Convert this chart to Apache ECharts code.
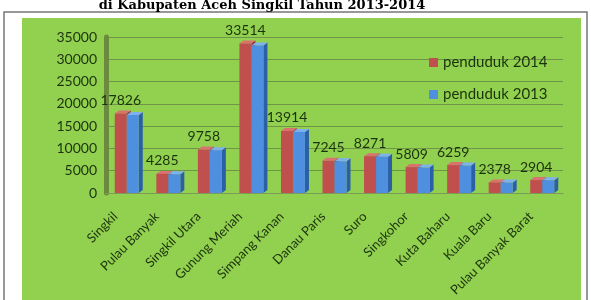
<!DOCTYPE html>
<html>
<head>
<meta charset="utf-8">
<script src="https://cdn.jsdelivr.net/npm/echarts@6/dist/echarts.min.js"></script>
<style>
  html, body { margin: 0; padding: 0; background: #fff; }
  #chart { width: 591px; height: 300px; }
</style>
</head>
<body>
<div id="chart"></div>
<script>
// data
const kecamatan = ['Singkil', 'Pulau Banyak', 'Singkil Utara', 'Gunung Meriah', 'Simpang Kanan',
  'Danau Paris', 'Suro', 'Singkohor', 'Kuta Baharu', 'Kuala Baru', 'Pulau Banyak Barat'];
const penduduk2014 = [17826, 4285, 9758, 33514, 13914, 7245, 8271, 5809, 6259, 2378, 2904];
const penduduk2013 = [17500, 4200, 9600, 33100, 13700, 7100, 8150, 5700, 6150, 2330, 2860];
const yTicks = { min: 0, max: 35000, interval: 5000 };

const RED = '#c0504d', BLUE = '#4f8fe0';
const INK = '#1b330c';

// 3D-ish bar: front face + right side + top
function bar3d(side, front, sideCol, topCol, withLabel) {
  return function (params, api) {
    const x0 = api.coord([api.value(0), 0]);
    const x1 = api.coord([api.value(0), api.value(1)]);
    const bw = 12, dx = 4, dy = 3;
    const left = side === 0 ? x0[0] - bw : x0[0];
    const right = left + bw;
    const top = x1[1], base = x0[1];
    const kids = [
      { type: 'polygon', shape: { points: [[right, top], [right + dx, top - dy], [right + dx, base - dy], [right, base]] },
        style: { fill: sideCol } },
      { type: 'polygon', shape: { points: [[left, top], [left + dx, top - dy], [right + dx, top - dy], [right, top]] },
        style: { fill: topCol } },
      { type: 'rect', shape: { x: left, y: top, width: bw, height: base - top },
        style: { fill: front } }
    ];
    if (withLabel) {
      kids.push({ type: 'text', x: left + bw / 2, y: top - 13,
        style: { text: String(api.value(1)), fill: INK, font: '14px Lato',
                 align: 'center', verticalAlign: 'middle' } });
    }
    return { type: 'group', children: kids };
  };
}

const chart = echarts.init(document.getElementById('chart'));
chart.setOption({
  animation: false,
  graphic: [
    { type: 'rect', z: -10, shape: { x: 4, y: 12, width: 583, height: 300 },
      style: { fill: '#fff', stroke: '#777', lineWidth: 1.5 } },
    { type: 'rect', z: -9, shape: { x: 22, y: 18, width: 559, height: 290 },
      style: { fill: '#92d050' } },
    { type: 'text', z: 10, x: 262, y: 12,
      style: { text: 'di Kabupaten Aceh Singkil Tahun 2013-2014', fill: '#000',
               font: 'bold 13px "DejaVu Serif"', align: 'center', verticalAlign: 'bottom' } }
  ],
  legend: {
    orient: 'vertical', left: 424, top: 50, itemGap: 17,
    itemWidth: 9, itemHeight: 9, icon: 'rect',
    textStyle: { fontFamily: 'Lato', fontSize: 15, color: INK },
    data: ['penduduk 2014', 'penduduk 2013']
  },
  grid: { left: 106, right: 28, top: 37, bottom: 107 },
  xAxis: {
    type: 'category', data: kecamatan,
    axisLine: { lineStyle: { color: '#7d9a5a' } },
    axisTick: { lineStyle: { color: '#7d9a5a' } },
    axisLabel: { rotate: 45, interval: 0, fontFamily: 'Lato', fontSize: 13, color: INK,
                 margin: 10, padding: [0, 16, 0, 0] }
  },
  yAxis: {
    type: 'value', min: yTicks.min, max: yTicks.max, interval: yTicks.interval,
    axisLine: { show: true, lineStyle: { color: '#6b8a3e', width: 5 } },
    axisTick: { show: false },
    axisLabel: { fontFamily: 'Lato', fontSize: 14, color: INK, margin: 9, formatter: v => String(v) },
    splitLine: { lineStyle: { color: '#6f9448', width: 1 } }
  },
  series: [
    { name: 'penduduk 2014', type: 'custom', itemStyle: { color: RED },
      renderItem: bar3d(0, RED, '#8e2f2c', '#d9736f', true),
      data: penduduk2014.map((v, i) => [i, v]) },
    { name: 'penduduk 2013', type: 'custom', itemStyle: { color: BLUE },
      renderItem: bar3d(1, BLUE, '#2b5fa6', '#7fb0ee', false),
      data: penduduk2013.map((v, i) => [i, v]) }
  ]
});
</script>
</body>
</html>
